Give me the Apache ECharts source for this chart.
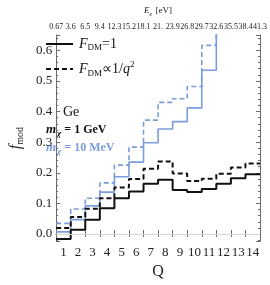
<!DOCTYPE html>
<html><head><meta charset="utf-8">
<script src="https://cdn.jsdelivr.net/npm/echarts@6/dist/echarts.min.js"></script>
<style>html,body{margin:0;padding:0;background:#fff}#c{width:270px;height:285px}</style>
</head><body><div id="c"></div>
<script>
// ---- data ----
const Q = [1,2,3,4,5,6,7,8,9,10,11,12,13,14];
const energyLabels = ['0.67','3.6','6.5','9.4','12.3','15.2','18.1','21.','23.9','26.8','29.7','32.6','35.5','38.4','41.3'];
const gevSolid  = [-0.016,0.014,0.047,0.084,0.117,0.139,0.164,0.177,0.144,0.137,0.147,0.164,0.182,0.195];
const gevDashed = [0.020,0.056,0.083,0.117,0.152,0.180,0.213,0.237,0.198,0.173,0.181,0.197,0.217,0.230];
const mevSolid  = [0.007,0.047,0.092,0.137,0.187,0.235,0.298,0.343,0.367,0.412,0.535,0.75];
const mevDashed = [0.035,0.082,0.117,0.167,0.225,0.284,0.372,0.430,0.442,0.482,0.616,0.80];

const BLUE = '#7b9ddc';
const FRAME = '#6b6b6b';
const SERIF = 'Liberation Serif';

function steps(vals){
  const pts = vals.map((v,i)=>[Q[i]-0.5, v]);
  pts.push([Q[vals.length-1]+0.5, vals[vals.length-1]]);
  return pts;
}

const yMin = -0.023, yMax = 0.65;
const chart = echarts.init(document.getElementById('c'), null, {renderer:'canvas'});
const tickStyle = {color:FRAME, width:1};
const hide = {color:'rgba(0,0,0,0)', borderColor:'rgba(0,0,0,0)', borderWidth:0};
function massRich(col){
  return {
    m:{fontFamily:SERIF, fontStyle:'italic', fontWeight:'bold', fontSize:13, fill:col, lineHeight:16, padding:[0,1,0,0]},
    c:{fontFamily:SERIF, fontStyle:'italic', fontWeight:'bold', fontSize:9, fill:col, verticalAlign:'bottom', lineHeight:11},
    t:{fontFamily:SERIF, fontWeight:'bold', fontSize:12, fill:col, lineHeight:16}
  };
}
const option = {
  animation:false,
  grid:{left:38, right:7.5, top:22.7, bottom:38.3, containLabel:false},
  xAxis:[
    {type:'category', data:Q.map(String), position:'bottom', boundaryGap:true,
     axisLine:{show:true, lineStyle:{color:FRAME,width:1}},
     axisTick:{show:true, inside:true, length:4, lineStyle:tickStyle, alignWithLabel:false},
     axisLabel:{interval:0, margin:5, fontFamily:SERIF, fontSize:13, color:'#222'},
     splitLine:{show:false},
     name:'Q', nameLocation:'middle', nameGap:21,
     nameTextStyle:{fontFamily:SERIF, fontSize:16, color:'#222', verticalAlign:'top'}},
    {type:'category', data:energyLabels, position:'top', boundaryGap:false,
     axisLine:{show:true, lineStyle:{color:FRAME,width:1}},
     axisTick:{show:true, inside:true, length:3, lineStyle:tickStyle, interval:0},
     axisLabel:{interval:0, margin:4, fontFamily:SERIF, fontSize:8, color:'#222'},
     splitLine:{show:false},
     name:'{e|E}{s|e} {t|[eV]}', nameLocation:'middle', nameGap:18,
     nameTextStyle:{rich:{
       e:{fontFamily:SERIF, fontStyle:'italic', fontSize:9, color:'#222', lineHeight:11},
       s:{fontFamily:SERIF, fontStyle:'italic', fontSize:6, color:'#222', verticalAlign:'bottom', lineHeight:11},
       t:{fontFamily:SERIF, fontSize:9, color:'#222', lineHeight:11}}}},
    {type:'value', min:0.5, max:14.5, show:false}
  ],
  yAxis:[
    {type:'value', min:yMin, max:yMax, splitNumber:6, position:'left',
     axisLine:{show:true, lineStyle:{color:FRAME,width:1}},
     axisTick:{show:true, inside:true, length:4, lineStyle:tickStyle},
     axisLabel:{margin:4, fontFamily:SERIF, fontSize:13, color:'#222',
       formatter:function(v){ const r=Math.round(v*10)/10; return Math.abs(v-r)<1e-6 ? r.toFixed(1) : ''; }},
     splitLine:{show:false},
     name:'{f|f}{s|mod}', nameLocation:'middle', nameGap:29, nameRotate:90,
     nameTextStyle:{rich:{
       f:{fontFamily:SERIF, fontStyle:'italic', fontSize:16, color:'#222', lineHeight:18},
       s:{fontFamily:SERIF, fontSize:10, color:'#222', verticalAlign:'bottom', lineHeight:14}}}},
    {type:'value', min:yMin, max:yMax, splitNumber:33, position:'left',
     axisLine:{show:false}, axisLabel:{show:false}, splitLine:{show:false},
     axisTick:{show:true, inside:true, length:2, lineStyle:tickStyle}},
    {type:'value', min:yMin, max:yMax, splitNumber:6, position:'right',
     axisLine:{show:true, lineStyle:{color:FRAME,width:1}}, axisLabel:{show:false}, splitLine:{show:false},
     axisTick:{show:true, inside:true, length:4, lineStyle:tickStyle}},
    {type:'value', min:yMin, max:yMax, splitNumber:33, position:'right',
     axisLine:{show:false}, axisLabel:{show:false}, splitLine:{show:false},
     axisTick:{show:true, inside:true, length:2, lineStyle:tickStyle}}
  ],
  legend:{
    show:true, orient:'vertical', left:40, top:32, itemWidth:27, itemHeight:14, itemGap:8,
    data:[
      {name:'fdm1', itemStyle:hide, lineStyle:{color:'#111', width:2, type:'solid'}},
      {name:'fdmq2', itemStyle:hide, lineStyle:{color:'#111', width:2, type:[5,3]}}
    ],
    formatter:function(n){ return n==='fdm1' ? '{f|F}{s|DM}{t|=1}' : '{f|F}{s|DM}{t|\u221D1/}{q|q}{p|2}'; },
    textStyle:{padding:[0,0,0,1], rich:{
      f:{fontFamily:SERIF, fontStyle:'italic', fontSize:14, color:'#111', lineHeight:16},
      s:{fontFamily:SERIF, fontSize:9, color:'#111', verticalAlign:'bottom', lineHeight:13},
      t:{fontFamily:SERIF, fontSize:14, color:'#111', lineHeight:16},
      q:{fontFamily:SERIF, fontStyle:'italic', fontSize:14, color:'#111', lineHeight:16},
      p:{fontFamily:SERIF, fontSize:9, color:'#111', verticalAlign:'top', lineHeight:18}}}
  },
  series:[
    {name:'mevSolid', type:'line', xAxisIndex:2, yAxisIndex:0, step:'end', data:steps(mevSolid),
     symbol:'none', clip:true, lineStyle:{color:BLUE, width:1.6},
     markLine:{silent:true, symbol:['none','none'], label:{show:false},
       lineStyle:{color:'#d4d4d4', width:1, type:'solid'}, data:[{yAxis:0}]}},
    {name:'mevDashed', type:'line', xAxisIndex:2, yAxisIndex:0, step:'end', data:steps(mevDashed),
     symbol:'none', clip:true, lineStyle:{color:BLUE, width:1.6, type:[5,3]}},
    {name:'fdm1', type:'line', xAxisIndex:2, yAxisIndex:0, step:'end', data:steps(gevSolid),
     symbol:'none', clip:true, itemStyle:{color:'#111'}, lineStyle:{color:'#111', width:2}},
    {name:'fdmq2', type:'line', xAxisIndex:2, yAxisIndex:0, step:'end', data:steps(gevDashed),
     symbol:'none', clip:true, itemStyle:{color:'#111'}, lineStyle:{color:'#111', width:2, type:[5,3]}}
  ],
  graphic:[
    {type:'text', x:63, y:112, style:{text:'Ge', fontFamily:SERIF, fontSize:14, fill:'#111', verticalAlign:'middle'}},
    {type:'text', x:46, y:130, style:{text:'{m|m}{c|\u03C7}{t| = 1 GeV}', verticalAlign:'middle', rich:massRich('#111')}},
    {type:'text', x:46, y:148, style:{text:'{m|m}{c|\u03C7}{t| = 10 MeV}', verticalAlign:'middle', rich:massRich(BLUE)}}
  ]
};
chart.setOption(option);
</script></body></html>
